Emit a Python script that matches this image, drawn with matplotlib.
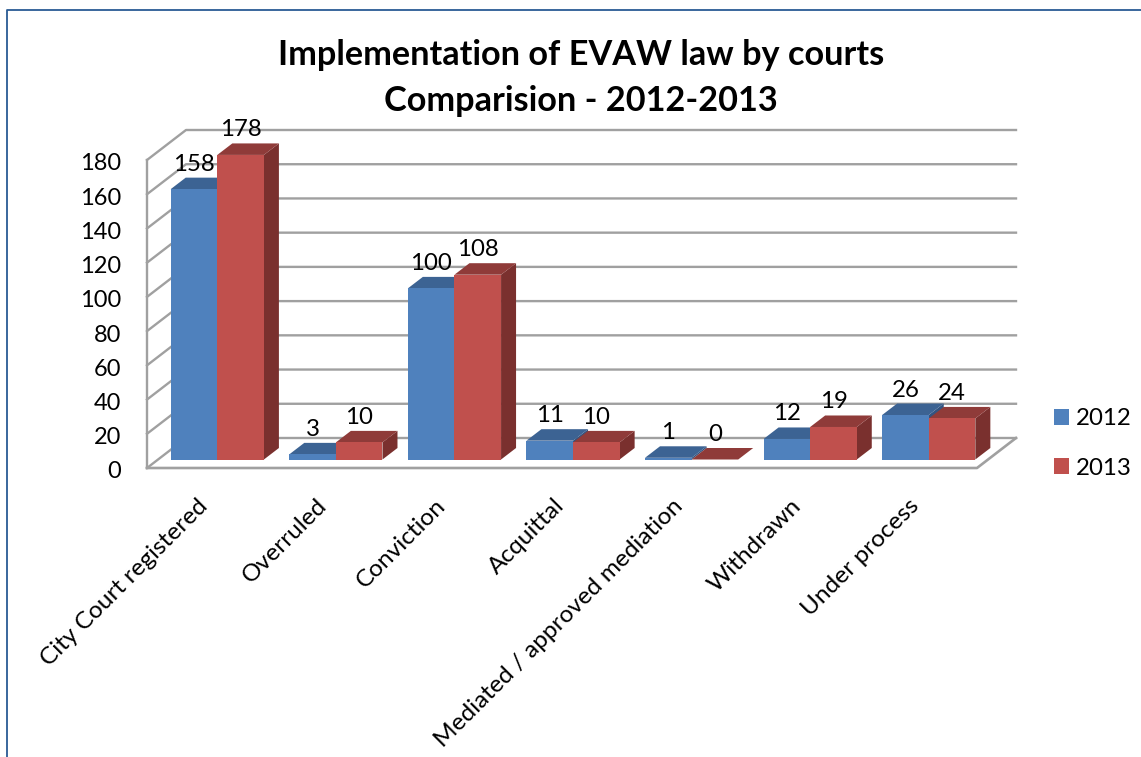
import matplotlib
matplotlib.use("Agg")
import matplotlib.pyplot as plt
from matplotlib.lines import Line2D
from matplotlib.transforms import ScaledTranslation

plt.rcParams['font.family'] = ['Lato', 'DejaVu Sans']

categories = ["City Court registered", "Overruled", "Conviction", "Acquittal",
              "Mediated / approved mediation", "Withdrawn", "Under process"]
years = ["2012", "2013"]
values_2012 = [158, 3, 100, 11, 1, 12, 26]
values_2013 = [178, 10, 108, 10, 0, 19, 24]
y_ticks = [0, 20, 40, 60, 80, 100, 120, 140, 160, 180]

front_colors = ["#4F81BD", "#C0504D"]
top_colors = ["#3C6393", "#8F3B39"]
side_colors = ["#335480", "#7A302E"]
grid_color = "#A0A0A0"

W, H = 1141, 757
fig = plt.figure(figsize=(W / 100, H / 100), dpi=100)
ax = fig.add_axes([147 / W, 1 - 468 / H, 830 / W, 308 / H])
ax.set_xlim(0, 7)
ax.set_ylim(0, 180)

# pixel sizes in data units, the chart is a fake 3D one
px_x = 7 / 830
px_y = 180 / 308
wall_dx, wall_dy = 39 * px_x, 30 * px_y
bar_dx, bar_dy = 15 * px_x, 11.5 * px_y
floor = 8.5 * px_y
bar_w = 0.393
bar_start = 0.2

# walls and floor
for v in y_ticks:
    ax.plot([0, wall_dx, 7 + wall_dx], [v, v + wall_dy, v + wall_dy],
            color=grid_color, lw=1.7, clip_on=False, zorder=1)
ax.plot([0, 7, 7 + wall_dx], [0, 0, wall_dy], color=grid_color, lw=1.9, clip_on=False, zorder=1)
ax.plot([0, 0], [0, 180], color=grid_color, lw=1.7, clip_on=False, zorder=1)

# bars
handles = []
for s, vals in enumerate([values_2012, values_2013]):
    for i, v in enumerate(vals):
        x0 = i + bar_start + s * bar_w
        x1 = x0 + bar_w
        top = floor + v
        z = 3 + s
        ax.fill([x1, x1 + bar_dx, x1 + bar_dx, x1], [floor, floor + bar_dy, top + bar_dy, top],
                color=side_colors[s], lw=0, clip_on=False, zorder=z)
        ax.fill([x0, x0 + bar_dx, x1 + bar_dx, x1], [top, top + bar_dy, top + bar_dy, top],
                color=top_colors[s], lw=0, clip_on=False, zorder=z)
    xs = [i + bar_start + s * bar_w for i in range(len(vals))]
    b = ax.bar(xs, vals, bar_w, bottom=floor, align='edge', color=front_colors[s],
               lw=0, clip_on=False, zorder=3 + s, label=years[s])
    handles.append(b)
    for x, v in zip(xs, vals):
        ax.text(x + bar_w / 2, floor + v + 25 * px_y, str(v), ha='center', va='center',
                fontsize=17.3, color='black', zorder=6, clip_on=False)

for spine in ax.spines.values():
    spine.set_visible(False)
ax.patch.set_alpha(0)
ax.set_yticks(y_ticks)
ax.set_yticklabels([str(v) for v in y_ticks], fontsize=17)
ax.tick_params(axis='y', length=0, pad=18.5)
ax.set_xticks([i + 0.5 for i in range(7)])
ax.set_xticklabels(categories, rotation=45, ha='right', rotation_mode='anchor', fontsize=17.6)
ax.tick_params(axis='x', length=0, pad=18)

# nudge the tick labels, pixels at dpi 100
for lab in ax.get_yticklabels():
    lab.set_transform(lab.get_transform() + ScaledTranslation(0, -2 / 100, fig.dpi_scale_trans))
for lab in ax.get_xticklabels():
    lab.set_transform(lab.get_transform() + ScaledTranslation(-9 / 100, -2 / 100, fig.dpi_scale_trans))

fig.text(581 / W, 1 - 78 / H, "Implementation of EVAW law by courts\nComparision - 2012-2013",
         ha='center', va='center', fontsize=24.7, fontweight='bold', linespacing=1.52)

fig.legend(handles=handles, labels=years, loc='center left', bbox_to_anchor=(1054 / W, 1 - 443.5 / H),
           frameon=False, fontsize=17.3, handlelength=0.62, handleheight=0.62, handletextpad=0.3,
           labelspacing=1.18, borderpad=0, borderaxespad=0)

# outer frame of the slide
frame = "#2A5A94"
fig.add_artist(Line2D([7 / W, 7 / W, 1], [0, 1 - 10 / H, 1 - 10 / H], color=frame, lw=1.3))

fig.savefig("out.png", dpi=100)
